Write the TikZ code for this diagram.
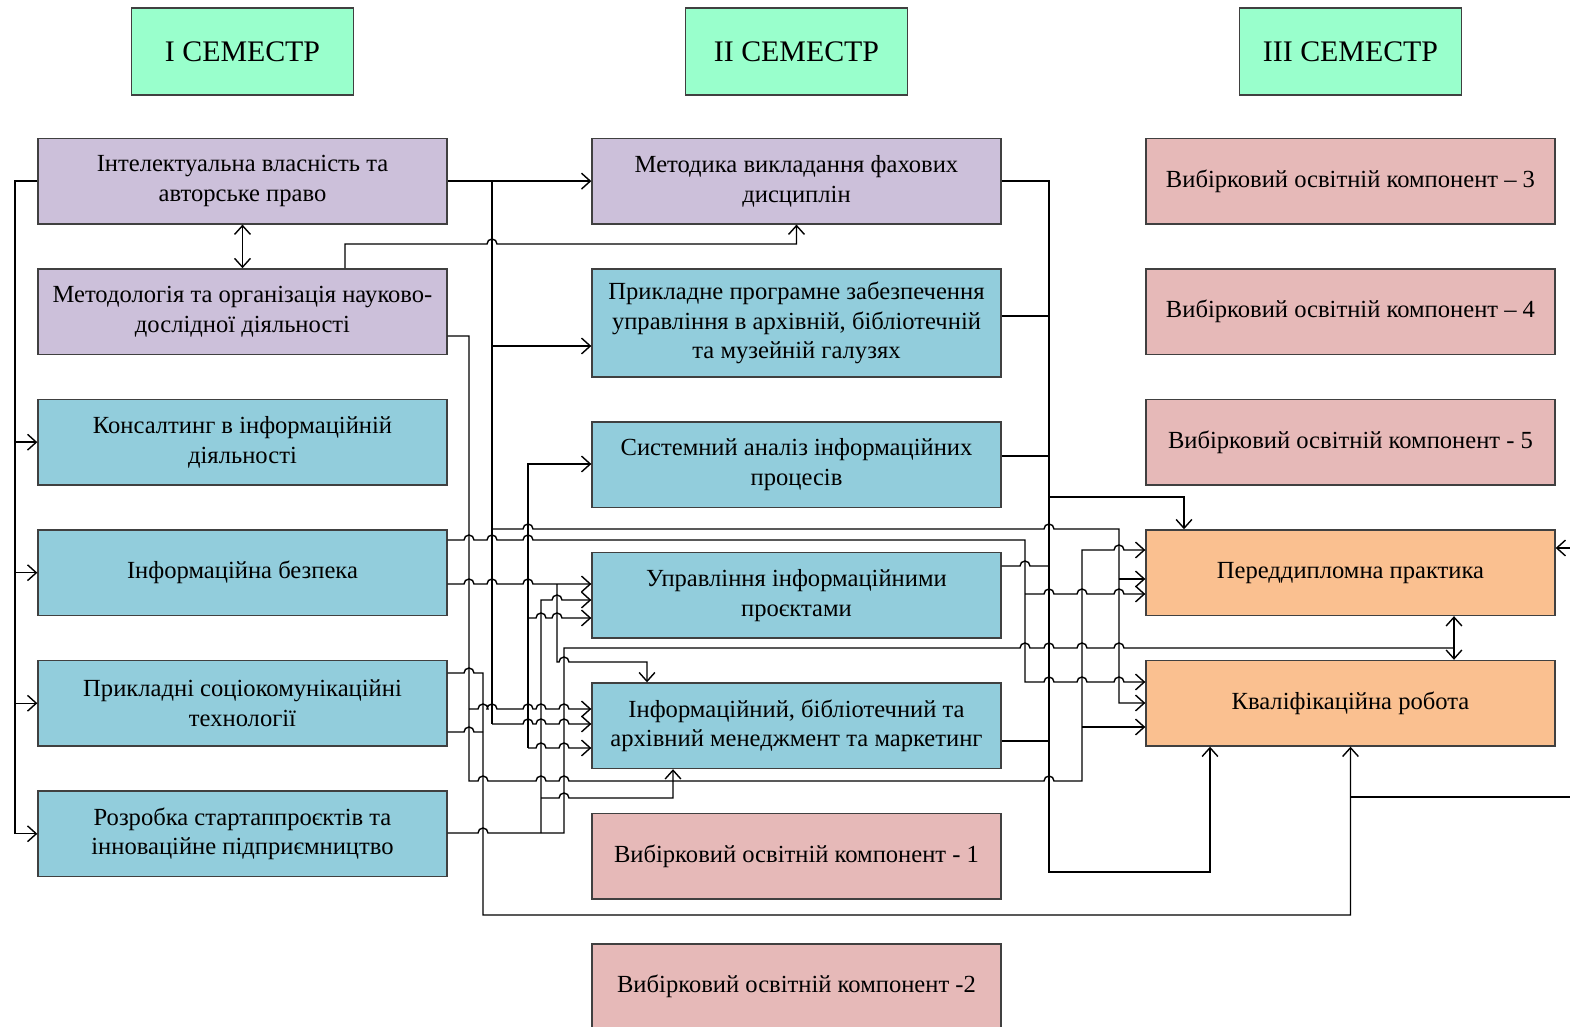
\documentclass[tikz,border=0pt]{standalone}
\usepackage{fontspec}
\setmainfont{Liberation Serif}
\usepackage{tikz}
\usetikzlibrary{positioning,calc,arrows.meta}

\definecolor{semgreen}{RGB}{153,255,204}
\definecolor{lilacbox}{RGB}{204,192,218}
\definecolor{corebox}{RGB}{146,205,220}
\definecolor{electbox}{RGB}{230,185,184}
\definecolor{finalbox}{RGB}{250,192,144}

% line that hops over a vertical line at x = #1, y = #2
\newcommand{\jx}[2]{-- (#1-5,#2) arc[start angle=180,end angle=0,radius=0.1cm]}

\begin{document}
\begin{tikzpicture}[
      x=0.02cm, y=-0.02cm,
      node distance = 0.873cm,
      line width=0.8pt,
      >={Straight Barb[length=5pt,width=9pt]},
      base/.style={rectangle, draw=black!75, align=center, inner sep=2pt,
        font=\fontsize{14}{17}\selectfont, minimum width=8.18cm, minimum height=1.71cm},
      sem/.style={base, fill=semgreen, minimum width=4.44cm, minimum height=1.74cm,
        font=\fontsize{17}{20}\selectfont},
      lilac/.style={base,fill=lilacbox},
      core/.style={base,fill=corebox},
      elect/.style={base,fill=electbox},
      final/.style={base,fill=finalbox},
    ]
      \useasboundingbox (0,0) rectangle (1570,1027);

      % I
      \node[sem] (1s) at (242.5,51.5) {I СЕМЕСТР};
      \node[lilac, below = 0.84cm of 1s] (1x1) {Інтелектуальна власність та\\авторське право};
      \node[lilac, below = of 1x1] (1x2) {Методологія та організація науково-\\дослідної діяльності};
      \node[core , below = of 1x2] (1x3) {Консалтинг в інформаційній\\діяльності};
      \node[core , below = of 1x3] (1x4) {Інформаційна безпека};
      \node[core , below = of 1x4] (1x5) {Прикладні соціокомунікаційні\\технології};
      \node[core , below = of 1x5] (1x6) {Розробка стартаппроєктів та\\інноваційне підприємництво};

      % II
      \node[sem] (2s) at (796.5,51.5) {II СЕМЕСТР};
      \node[lilac, below = 0.84cm of 2s] (2x1) {Методика викладання фахових\\дисциплін};
      \node[core , below = of 2x1, minimum height=2.16cm] (2x2) {Прикладне програмне забезпечення\\управління в архівній, бібліотечній\\та музейній галузях};
      \node[core , below = of 2x2] (2x3) {Системний аналіз інформаційних\\процесів};
      \node[core , below = of 2x3] (2x4) {Управління інформаційними\\проєктами};
      \node[core , below = of 2x4] (2x5) {Інформаційний, бібліотечний та\\архівний менеджмент та маркетинг};
      \node[elect, below = of 2x5] (2x6) {Вибірковий освітній компонент - 1};
      \node[elect, below = of 2x6] (2x7) {Вибірковий освітній компонент -2};

      % III
      \node[sem] (3s) at (1350.5,51.5) {III СЕМЕСТР};
      \node[elect, below = 0.84cm of 3s] (3x1) {Вибірковий освітній компонент – 3};
      \node[elect, below = of 3x1] (3x2) {Вибірковий освітній компонент – 4};
      \node[elect, below = of 3x2] (3x3) {Вибірковий освітній компонент - 5};
      \node[final, below = of 3x3] (3x4) {Переддипломна практика};
      \node[final, below = of 3x4] (3x5) {Кваліфікаційна робота};

      % left bus
      \draw[->] (1x1.west) -- (15,0 |- 1x1.west) |- (1x6.west);
      \foreach \n in {1x3,1x4,1x5}
        \draw[->] (15,0 |- \n.west) -- (\n.west);
      \draw[<->] (1x1.south) -- (1x2.north);

      % from 1x1
      \draw[->] (1x1.east) -- (2x1.west);
      \draw (492,0 |- 1x1.east) -- (492,724);
      \draw[->] (492,346) -- (2x2.west |- 0,346);
      \draw[->] (492,724) \jx{528}{724} \jx{541}{724} \jx{564}{724} -- (2x5.west |- 0,724);
      \draw[->] (492,529) \jx{528}{529} \jx{1049}{529} -- (1119,529) |- (3x5.west |- 0,703);
      \draw[->] (1119,579) -- (3x4.west |- 0,579);

      % from 1x2
      \draw[->] (345,0 |- 1x2.north) -- (345,244) \jx{492}{244} -| (2x1.south);
      \draw[->] (1x2.east |- 0,336) -- (469,336) -- (469,781)
        \jx{483}{781} \jx{541}{781} \jx{564}{781} \jx{1049}{781} -- (1082,781)
        -- (1082,550) \jx{1119}{550} -- (3x4.west |- 0,550);
      \draw[->] (469,709) \jx{483}{709} \jx{492}{709} \jx{528}{709} \jx{541}{709} \jx{564}{709}
        -- (2x5.west |- 0,709);
      \draw[->] (1082,727) -- (3x5.west |- 0,727);
      \draw[->] (541,798) \jx{564}{798} -- (673,798) -- (673,0 |- 2x5.south);

      % from 1x4
      \draw[->] (1x4.east |- 0,540) \jx{469}{540} \jx{492}{540} \jx{528}{540} -- (1025,540)
        -- (1025,682) \jx{1049}{682} \jx{1082}{682} \jx{1119}{682} -- (3x5.west |- 0,682);
      \draw[->] (1025,594) \jx{1049}{594} \jx{1082}{594} \jx{1119}{594} -- (3x4.west |- 0,594);
      \draw[->] (1x4.east |- 0,584) \jx{469}{584} \jx{492}{584} \jx{528}{584} -- (2x4.west |- 0,584);
      \draw[->] (557,584) -- (557,662) \jx{564}{662} -- (647,662) -- (647,0 |- 2x5.north);

      % from 1x5
      \draw[->] (1x5.east |- 0,673) \jx{469}{673} -- (483,673) -- (483,915) -| (3x5.south);
      \draw (1x5.east |- 0,732) \jx{469}{732} -- (483,732);

      % from 1x6
      \draw (1x6.east |- 0,833) \jx{483}{833} -- (564,833) -- (564,648)
        \jx{1025}{648} \jx{1049}{648} \jx{1082}{648} \jx{1119}{648} -- (1454,648);
      \draw[->] (541,833) -- (541,600) \jx{557}{600} -- (2x4.west |- 0,600);

      % bus at 528
      \coordinate (bus) at (528,748);
      \draw[->] (bus) -- (528,464) -- (2x3.west |- 0,464);
      \draw[->] (528,618) \jx{541}{618} \jx{557}{618} -- (2x4.west |- 0,618);
      \draw[->] (bus) \jx{541}{748} \jx{564}{748} -- (2x5.west |- 0,748);

      % right of II
      \draw[->] (2x1.east) -- (1049,0 |- 2x1.east) -- (1049,872) -| (1210,0 |- 3x5.south);
      \draw (2x2.east |- 0,316) -- (1049,316);
      \draw (2x3.east |- 0,456) -- (1049,456);
      \draw[->] (1049,497) -| (1184,0 |- 3x4.north);
      \draw (2x4.east |- 0,566) \jx{1025}{566} -- (1049,566);
      \draw (2x5.east |- 0,741) -- (1049,741);

      % III
      \draw[<->] (1454,0 |- 3x4.south) -- (1454,0 |- 3x5.north);
      \coordinate (rin) at (1570,548);
      \draw[->] (rin) -- (3x4.east |- rin);
      \coordinate (rout) at (1570,797);
      \draw (1350,797) -- (rout);

    \end{tikzpicture}
\end{document}
